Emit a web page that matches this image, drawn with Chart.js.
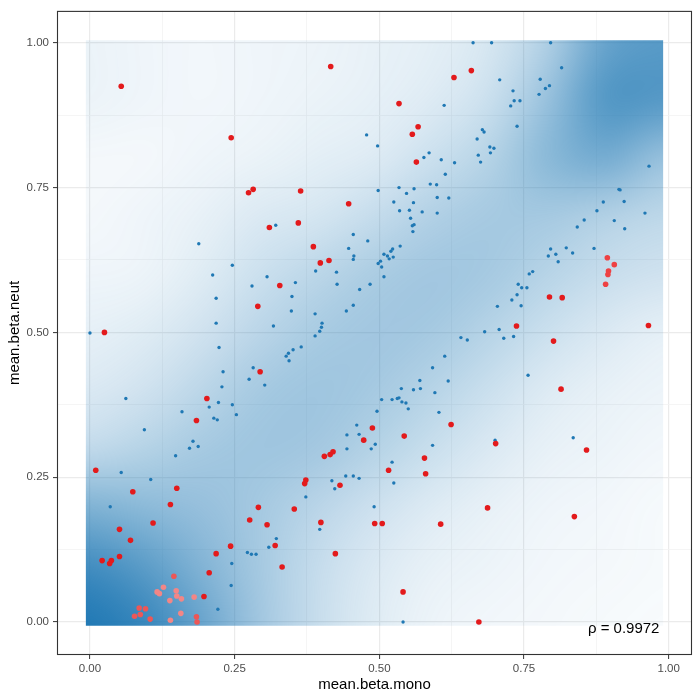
<!DOCTYPE html>
<html>
<head>
<meta charset="utf-8">
<script src="https://cdn.jsdelivr.net/npm/chart.js@4.4.1/dist/chart.umd.min.js"></script>
<style>
  html, body { margin: 0; padding: 0; background: #fff; }
  #wrap { width: 700px; height: 700px; }
</style>
</head>
<body>
<div id="wrap"><canvas id="chart" width="700" height="700"></canvas></div>
<script>
// axis breaks
const majorTicks = [0, 0.25, 0.5, 0.75, 1];
const minorTicks = [0.125, 0.375, 0.625, 0.875];

// extent of the density raster (data range of the full set)
const densityExtentX = [-0.0071, 0.9904];
const densityExtentY = [-0.0064, 1.0045];

// density fill (alpha of the blue), rows from mean.beta.neut = 1 (top) to 0,
// columns from mean.beta.mono = 0 to 1
const densityRows = [
  [0.09, 0.07, 0.06, 0.07, 0.08, 0.10, 0.12, 0.18, 0.35, 0.68, 0.75],
  [0.09, 0.07, 0.06, 0.07, 0.09, 0.11, 0.15, 0.23, 0.46, 0.78, 0.77],
  [0.05, 0.05, 0.07, 0.09, 0.12, 0.15, 0.23, 0.33, 0.53, 0.63, 0.46],
  [0.05, 0.07, 0.10, 0.16, 0.19, 0.26, 0.35, 0.40, 0.40, 0.34, 0.29],
  [0.07, 0.08, 0.14, 0.23, 0.30, 0.38, 0.42, 0.40, 0.32, 0.25, 0.21],
  [0.11, 0.14, 0.21, 0.31, 0.39, 0.42, 0.40, 0.32, 0.23, 0.16, 0.11],
  [0.16, 0.21, 0.30, 0.40, 0.43, 0.40, 0.32, 0.23, 0.15, 0.10, 0.08],
  [0.27, 0.33, 0.40, 0.43, 0.41, 0.33, 0.24, 0.16, 0.10, 0.08, 0.06],
  [0.58, 0.52, 0.47, 0.40, 0.31, 0.22, 0.15, 0.10, 0.07, 0.06, 0.04],
  [0.86, 0.74, 0.56, 0.40, 0.26, 0.16, 0.10, 0.08, 0.06, 0.05, 0.04],
  [1.00, 0.90, 0.68, 0.42, 0.25, 0.14, 0.08, 0.06, 0.05, 0.04, 0.03],
];

// [mean.beta.mono, mean.beta.neut]
const bluePoints = [
  [0.321, 0.685], [0.188, 0.653], [0.246, 0.616], [0.212, 0.599], [0.218, 0.559],
  [0.218, 0.516], [0.280, 0.580], [0.306, 0.596], [0.355, 0.586], [0.349, 0.562],
  [0.348, 0.537], [0.317, 0.511], [0.000, 0.499], [0.223, 0.474], [0.351, 0.470],
  [0.365, 0.475], [0.389, 0.532], [0.389, 0.494], [0.397, 0.502], [0.400, 0.509],
  [0.401, 0.516], [0.390, 0.606], [0.426, 0.604], [0.427, 0.583], [0.443, 0.537],
  [0.447, 0.645], [0.662, 1.000], [0.612, 0.892], [0.478, 0.841], [0.497, 0.822],
  [0.678, 0.850], [0.681, 0.846], [0.669, 0.834], [0.671, 0.806], [0.675, 0.794],
  [0.586, 0.810], [0.577, 0.802], [0.607, 0.798], [0.630, 0.793], [0.614, 0.773],
  [0.588, 0.756], [0.599, 0.755], [0.498, 0.745], [0.534, 0.750], [0.560, 0.748],
  [0.547, 0.740], [0.600, 0.733], [0.620, 0.732], [0.525, 0.725], [0.559, 0.724],
  [0.535, 0.710], [0.552, 0.711], [0.574, 0.708], [0.600, 0.706], [0.554, 0.697],
  [0.557, 0.684], [0.560, 0.686], [0.558, 0.674], [0.455, 0.669], [0.694, 1.000],
  [0.796, 1.000], [0.815, 0.957], [0.708, 0.936], [0.778, 0.937], [0.731, 0.917],
  [0.794, 0.926], [0.787, 0.921], [0.776, 0.911], [0.733, 0.900], [0.743, 0.900],
  [0.727, 0.891], [0.738, 0.856], [0.691, 0.820], [0.698, 0.818], [0.692, 0.810],
  [0.966, 0.787], [0.914, 0.747], [0.916, 0.746], [0.887, 0.725], [0.923, 0.726],
  [0.876, 0.710], [0.959, 0.706], [0.854, 0.694], [0.906, 0.693], [0.842, 0.682],
  [0.924, 0.679], [0.230, 0.432], [0.282, 0.439], [0.275, 0.419], [0.302, 0.409],
  [0.228, 0.406], [0.062, 0.386], [0.222, 0.379], [0.246, 0.375], [0.206, 0.371],
  [0.159, 0.363], [0.253, 0.358], [0.214, 0.352], [0.220, 0.349], [0.094, 0.332],
  [0.480, 0.658], [0.536, 0.649], [0.523, 0.644], [0.520, 0.640], [0.508, 0.635],
  [0.514, 0.632], [0.517, 0.627], [0.524, 0.630], [0.456, 0.632], [0.455, 0.626],
  [0.502, 0.623], [0.498, 0.619], [0.504, 0.613], [0.508, 0.596], [0.484, 0.583],
  [0.466, 0.574], [0.455, 0.547], [0.343, 0.464], [0.339, 0.459], [0.344, 0.451],
  [0.641, 0.491], [0.652, 0.487], [0.682, 0.501], [0.613, 0.459], [0.592, 0.439],
  [0.619, 0.416], [0.570, 0.417], [0.538, 0.403], [0.559, 0.401], [0.571, 0.403],
  [0.596, 0.396], [0.504, 0.384], [0.522, 0.384], [0.531, 0.386], [0.534, 0.387],
  [0.539, 0.380], [0.546, 0.378], [0.550, 0.368], [0.496, 0.364], [0.603, 0.362],
  [0.461, 0.340], [0.465, 0.324], [0.444, 0.323], [0.796, 0.644], [0.823, 0.646],
  [0.805, 0.635], [0.834, 0.637], [0.871, 0.645], [0.792, 0.632], [0.809, 0.622],
  [0.759, 0.601], [0.765, 0.605], [0.740, 0.583], [0.746, 0.577], [0.755, 0.577],
  [0.738, 0.565], [0.729, 0.556], [0.704, 0.545], [0.745, 0.546], [0.707, 0.505],
  [0.715, 0.490], [0.732, 0.493], [0.757, 0.426], [0.178, 0.312], [0.172, 0.300],
  [0.187, 0.303], [0.148, 0.287], [0.054, 0.258], [0.105, 0.246], [0.035, 0.199],
  [0.322, 0.144], [0.309, 0.129], [0.272, 0.120], [0.279, 0.117], [0.287, 0.117],
  [0.245, 0.101], [0.244, 0.063], [0.221, 0.022], [0.493, 0.307], [0.486, 0.299],
  [0.444, 0.299], [0.592, 0.305], [0.522, 0.276], [0.442, 0.252], [0.455, 0.252],
  [0.465, 0.248], [0.418, 0.244], [0.423, 0.230], [0.525, 0.240], [0.373, 0.216],
  [0.491, 0.199], [0.397, 0.160], [0.541, 0.000], [0.700, 0.314], [0.835, 0.318],
];

const redPoints = [
  [0.054, 0.925], [0.416, 0.959], [0.244, 0.836], [0.274, 0.741], [0.282, 0.747],
  [0.364, 0.744], [0.447, 0.722], [0.360, 0.689], [0.310, 0.681], [0.386, 0.648],
  [0.398, 0.620], [0.413, 0.624], [0.328, 0.581], [0.290, 0.545], [0.025, 0.500],
  [0.659, 0.952], [0.629, 0.940], [0.534, 0.895], [0.567, 0.855], [0.557, 0.842],
  [0.564, 0.794], [0.294, 0.432], [0.202, 0.386], [0.184, 0.348], [0.488, 0.335],
  [0.624, 0.341], [0.543, 0.321], [0.794, 0.561], [0.816, 0.560], [0.737, 0.511],
  [0.965, 0.512], [0.801, 0.485], [0.814, 0.402], [0.010, 0.262], [0.074, 0.225],
  [0.150, 0.231], [0.139, 0.203], [0.109, 0.171], [0.051, 0.160], [0.070, 0.141],
  [0.021, 0.106], [0.037, 0.106], [0.034, 0.101], [0.051, 0.113], [0.291, 0.198],
  [0.276, 0.176], [0.306, 0.168], [0.243, 0.131], [0.218, 0.118], [0.320, 0.132],
  [0.332, 0.095], [0.206, 0.085], [0.197, 0.044], [0.473, 0.314], [0.405, 0.286],
  [0.415, 0.289], [0.420, 0.294], [0.578, 0.283], [0.516, 0.262], [0.580, 0.256],
  [0.373, 0.245], [0.371, 0.239], [0.432, 0.236], [0.353, 0.195], [0.399, 0.172],
  [0.492, 0.170], [0.505, 0.170], [0.606, 0.169], [0.424, 0.118], [0.541, 0.052],
  [0.672, 0.000], [0.701, 0.308], [0.858, 0.297], [0.687, 0.197], [0.837, 0.182],
];

const fadedRedPoints = [
  [0.894, 0.629], [0.906, 0.617], [0.896, 0.606], [0.895, 0.600], [0.891, 0.583],
];

const pinkPoints = [
  [0.145, 0.079], [0.085, 0.024], [0.096, 0.023], [0.077, 0.010], [0.087, 0.013],
  [0.104, 0.005], [0.184, 0.009], [0.185, 0.000],
];

const lightPinkPoints = [
  [0.127, 0.060], [0.116, 0.052], [0.120, 0.049], [0.149, 0.054], [0.150, 0.045],
  [0.138, 0.037], [0.158, 0.040], [0.180, 0.043], [0.139, 0.003], [0.157, 0.015],
];

const rhoLabel = "ρ = 0.9972";
const rhoLabelX = 0.984;
const rhoLabelY = -0.012;

const FONT = "'Liberation Sans', Arial, Helvetica, sans-serif";

function expand(ext) {
  const pad = (ext[1] - ext[0]) * 0.05;
  return [ext[0] - pad, ext[1] + pad];
}
const xLim = expand(densityExtentX);
const yLim = expand(densityExtentY);

const toXY = (pts) => pts.map(([x, y]) => ({ x, y }));
const isMajor = (v) => majorTicks.some((t) => Math.abs(t - v) < 1e-9);

const densityPlugin = {
  id: "density",
  beforeDatasetsDraw(chart) {
    const { ctx, scales } = chart;
    const rows = densityRows.length;
    const cols = densityRows[0].length;
    const pad = 2; // repeat the edge cells so the smoothing does not fade at the border
    const w = cols + pad * 2;
    const h = rows + pad * 2;
    const off = document.createElement("canvas");
    off.width = w;
    off.height = h;
    const octx = off.getContext("2d");
    const img = octx.createImageData(w, h);
    for (let r = 0; r < h; r++) {
      for (let c = 0; c < w; c++) {
        const rr = Math.min(rows - 1, Math.max(0, r - pad));
        const cc = Math.min(cols - 1, Math.max(0, c - pad));
        const i = (r * w + c) * 4;
        img.data[i] = 31;
        img.data[i + 1] = 120;
        img.data[i + 2] = 180;
        img.data[i + 3] = Math.round(densityRows[rr][cc] * 255);
      }
    }
    octx.putImageData(img, 0, 0);

    const left = scales.x.getPixelForValue(densityExtentX[0]);
    const right = scales.x.getPixelForValue(densityExtentX[1]);
    const top = scales.y.getPixelForValue(densityExtentY[1]);
    const bottom = scales.y.getPixelForValue(densityExtentY[0]);
    // grid nodes sit on the cell centres
    const cw = (right - left) / (cols - 1);
    const ch = (bottom - top) / (rows - 1);

    ctx.save();
    ctx.beginPath();
    ctx.rect(left, top, right - left, bottom - top);
    ctx.clip();
    ctx.imageSmoothingEnabled = true;
    ctx.imageSmoothingQuality = "high";
    ctx.drawImage(off, left - (pad + 0.5) * cw, top - (pad + 0.5) * ch, w * cw, h * ch);
    ctx.restore();
  },
};

const frameAndLabelPlugin = {
  id: "frameAndLabel",
  afterDatasetsDraw(chart) {
    const { ctx, chartArea, scales } = chart;
    ctx.save();
    ctx.font = "15px " + FONT;
    ctx.fillStyle = "#000";
    ctx.textAlign = "right";
    ctx.textBaseline = "middle";
    ctx.fillText(rhoLabel, scales.x.getPixelForValue(rhoLabelX), scales.y.getPixelForValue(rhoLabelY));

    ctx.strokeStyle = "#333333";
    ctx.lineWidth = 1.1;
    ctx.strokeRect(
      chartArea.left + 0.5,
      chartArea.top + 0.5,
      chartArea.right - chartArea.left - 1,
      chartArea.bottom - chartArea.top - 1
    );
    ctx.restore();
  },
};

const gridOptions = {
  display: true,
  drawOnChartArea: true,
  drawTicks: true,
  tickLength: 4,
  color: (c) => (c.tick && isMajor(c.tick.value) ? "#EBEBEB" : "#F2F2F2"),
  lineWidth: (c) => (c.tick && isMajor(c.tick.value) ? 1.2 : 0.8),
  tickColor: (c) => (c.tick && isMajor(c.tick.value) ? "#333333" : "rgba(0,0,0,0)"),
  tickWidth: 1,
};

const setTicks = (scale) => {
  scale.ticks = majorTicks.concat(minorTicks).sort((a, b) => a - b).map((v) => ({ value: v }));
};

const tickLabel = (value) => (isMajor(value) ? value.toFixed(2) : "");

new Chart(document.getElementById("chart"), {
  type: "scatter",
  data: {
    datasets: [
      {
        label: "red",
        data: toXY(redPoints),
        backgroundColor: "#E31A1C",
        borderWidth: 0,
        pointRadius: 2.8,
        order: 0,
      },
      {
        label: "red faded",
        data: toXY(fadedRedPoints),
        backgroundColor: "#EE4143",
        borderWidth: 0,
        pointRadius: 2.8,
        order: 1,
      },
      {
        label: "pink",
        data: toXY(pinkPoints),
        backgroundColor: "#EC5757",
        borderWidth: 0,
        pointRadius: 2.8,
        order: 2,
      },
      {
        label: "light pink",
        data: toXY(lightPinkPoints),
        backgroundColor: "#F28686",
        borderWidth: 0,
        pointRadius: 2.8,
        order: 3,
      },
      {
        label: "blue",
        data: toXY(bluePoints),
        backgroundColor: "#1F78B4",
        borderWidth: 0,
        pointRadius: 1.7,
        order: 4,
      },
    ],
  },
  options: {
    responsive: false,
    animation: false,
    events: [],
    layout: { padding: { top: 10, right: 8, left: 0, bottom: 0 } },
    plugins: {
      legend: { display: false },
      tooltip: { enabled: false },
    },
    scales: {
      x: {
        type: "linear",
        min: xLim[0],
        max: xLim[1],
        afterBuildTicks: setTicks,
        afterFit: (scale) => {
          scale.height = 45;
        },
        border: { display: false },
        grid: gridOptions,
        ticks: {
          autoSkip: false,
          maxRotation: 0,
          padding: 3,
          color: "#4D4D4D",
          font: { family: FONT, size: 11.5 },
          callback: tickLabel,
        },
        title: {
          display: true,
          text: "mean.beta.mono",
          color: "#000",
          font: { family: FONT, size: 15 },
          padding: { top: 0, bottom: 6 },
        },
      },
      y: {
        type: "linear",
        min: yLim[0],
        max: yLim[1],
        afterBuildTicks: setTicks,
        afterFit: (scale) => {
          scale.width = 57;
        },
        border: { display: false },
        grid: gridOptions,
        ticks: {
          autoSkip: false,
          padding: 4,
          color: "#4D4D4D",
          font: { family: FONT, size: 11.5 },
          callback: tickLabel,
        },
        title: {
          display: true,
          text: "mean.beta.neut",
          color: "#000",
          font: { family: FONT, size: 15 },
          padding: { top: 6, bottom: 0 },
        },
      },
    },
  },
  plugins: [densityPlugin, frameAndLabelPlugin],
});
</script>
</body>
</html>
